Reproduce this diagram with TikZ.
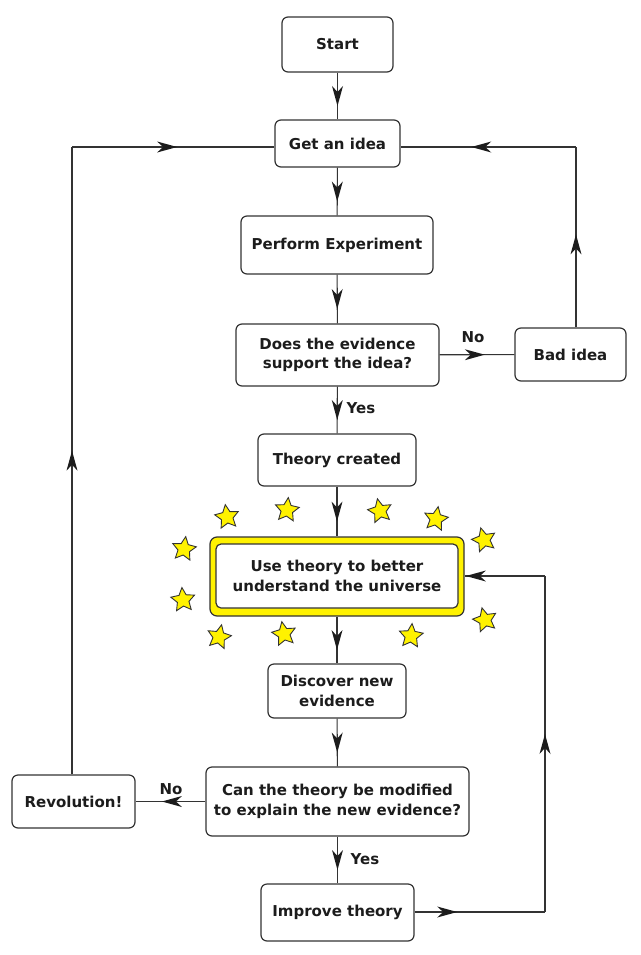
\documentclass[tikz,border=0pt]{standalone}
\usepackage{fontspec}
\setmainfont{DejaVu Sans}
\usetikzlibrary{shapes.geometric,decorations.markings}
\definecolor{ink}{HTML}{1C1C1C}
\definecolor{edge}{HTML}{333333}
\definecolor{staryellow}{HTML}{FFF200}
\begin{document}
\begin{tikzpicture}[x=1pt,y=-1pt,
  box/.style={draw=edge, line width=1.2pt, rounded corners=6pt, fill=white, text=ink,
    font=\bfseries\fontsize{15}{19.5}\selectfont, align=center, inner sep=0pt},
  lab/.style={text=ink, font=\bfseries\fontsize{15}{19}\selectfont, inner sep=0pt},
  conn/.style={draw=edge, line width=1.1pt},
  marr/.style={postaction={decorate,decoration={markings,mark=at position #1 with
    {\fill[ink] (10,0) -- (-10,5.5) -- (-4,0) -- (-10,-5.5) -- cycle;}}}},
  starsty/.style={star, star points=5, star point ratio=2.05, minimum size=25pt,
    inner sep=0pt, fill=staryellow, draw=edge, line width=0.9pt}]
\fill[white] (0,0) rectangle (640,955);
\useasboundingbox (0,0) rectangle (640,955);

% stars
\node[starsty, rotate=8]   (s1)  at (227,517) {};
\node[starsty, rotate=-6]  (s2)  at (287,510) {};
\node[starsty, rotate=12]  (s3)  at (380,511) {};
\node[starsty, rotate=-10] (s4)  at (436,519) {};
\node[starsty, rotate=15]  (s5)  at (484,540) {};
\node[starsty, rotate=-8]  (s6)  at (184,549) {};
\node[starsty, rotate=5]   (s7)  at (183,600) {};
\node[starsty, rotate=-12] (s8)  at (219,637) {};
\node[starsty, rotate=10]  (s9)  at (284,634) {};
\node[starsty, rotate=-5]  (s10) at (411,636) {};
\node[starsty, rotate=14]  (s11) at (485,620) {};

% boxes
\node[box, minimum width=111pt, minimum height=55pt] (start) at (337.5,44.5) {Start};
\node[box, minimum width=125pt, minimum height=47pt] (idea) at (337.5,143.5) {Get an idea};
\node[box, minimum width=192pt, minimum height=58pt] (perf) at (337,245) {Perform Experiment};
\node[box, minimum width=203pt, minimum height=62pt] (does) at (337.5,355) {Does the evidence\\support the idea?};
\node[box, minimum width=111pt, minimum height=53pt] (bad) at (570.5,354.5) {Bad idea};
\node[box, minimum width=158pt, minimum height=52pt] (theory) at (337,460) {Theory created};
\node[draw=edge, line width=1.2pt, rounded corners=7pt, fill=staryellow,
      minimum width=254pt, minimum height=79pt, inner sep=0pt] (use) at (337,576.5) {};
\node[box, minimum width=242pt, minimum height=64pt, rounded corners=5pt] (usein) at (337,576) {Use theory to better\\understand the universe};
\node[box, minimum width=138pt, minimum height=54pt] (disc) at (337,691) {Discover new\\evidence};
\node[box, minimum width=263pt, minimum height=69pt] (can) at (337.5,801.5) {Can the theory be modified\\to explain the new evidence?};
\node[box, minimum width=123pt, minimum height=53pt] (rev) at (73.5,801.5) {Revolution!};
\node[box, minimum width=153pt, minimum height=57pt] (impr) at (337.5,912.5) {Improve theory};

% corner coordinates
\coordinate (cbr) at (576,147);
\coordinate (cbl) at (72,147);
\coordinate (crb) at (545,912);
\coordinate (crt) at (545,576);

% main spine
\draw[conn, marr=0.5] (start) -- (idea);
\draw[conn, marr=0.5] (idea) -- (perf);
\draw[conn, marr=0.5] (perf) -- (does);
\draw[conn, marr=0.5] (does) -- (theory);
\draw[conn, marr=0.5] (theory) -- (use);
\draw[conn, marr=0.5] (use) -- (disc);
\draw[conn, marr=0.5] (disc) -- (can);
\draw[conn, marr=0.5] (can) -- (impr);

% No branch to bad idea
\draw[conn, marr=0.47] (does) -- (bad);
\draw[conn, marr=0.46] (bad.north -| cbr) -- (cbr);
\draw[conn, marr=0.54] (cbr) -- (idea.east |- cbr);

% Revolution branch
\draw[conn, marr=0.48] (can) -- (rev);
\draw[conn, marr=0.5] (rev.north -| cbl) -- (cbl);
\draw[conn, marr=0.47] (cbl) -- (idea.west |- cbl);

% Improve loop
\draw[conn, marr=0.25] (impr.east |- crb) -- (crb);
\draw[conn, marr=0.5] (crb) -- (crt);
\draw[conn, marr=0.86] (crt) -- (use.east |- crt);

% labels
\node[lab] (no1) at (473,337) {No};
\node[lab] (yes1) at (361,408) {Yes};
\node[lab] (no2) at (171,789) {No};
\node[lab] (yes2) at (365,859) {Yes};
\end{tikzpicture}
\end{document}
